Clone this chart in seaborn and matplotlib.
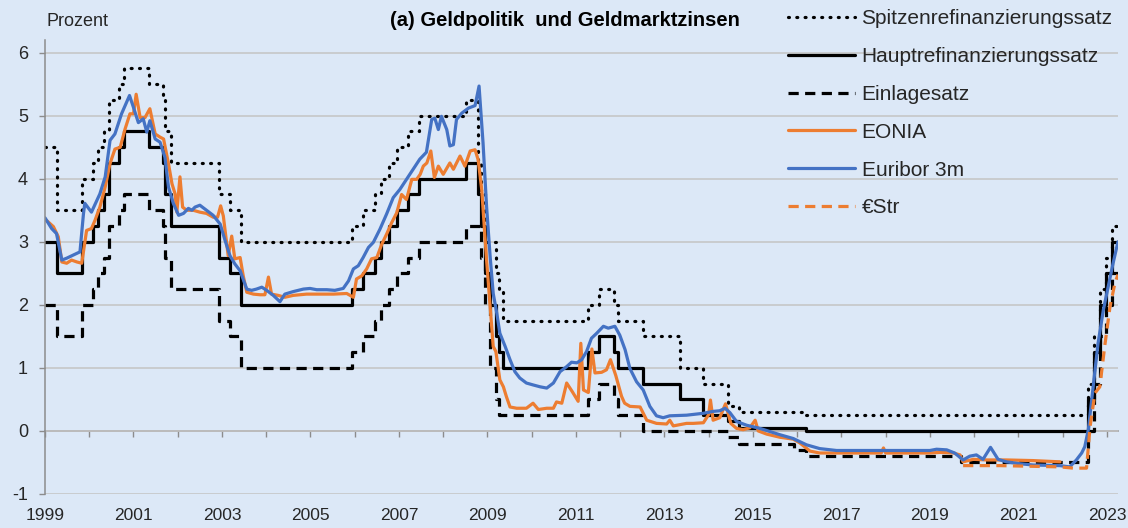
import numpy as np
import pandas as pd
import matplotlib
matplotlib.use("Agg")
import matplotlib.pyplot as plt
import seaborn as sns

"""
Leitzinsen der EZB: Datum der Aenderung und neuer Satz (Prozent)
"""
zins_daten = ["1999-01-01", "1999-04-09", "1999-11-05", "2000-02-04", "2000-03-17",
              "2000-04-28", "2000-06-09", "2000-09-01", "2000-10-11", "2001-05-11",
              "2001-08-31", "2001-09-18", "2001-11-09", "2002-12-06", "2003-03-07",
              "2003-06-06", "2005-12-06", "2006-03-08", "2006-06-15", "2006-08-09",
              "2006-10-11", "2006-12-13", "2007-03-14", "2007-06-13", "2008-07-09",
              "2008-10-15", "2008-11-12", "2008-12-10", "2009-01-21", "2009-03-11",
              "2009-04-08", "2009-05-13", "2011-04-13", "2011-07-13", "2011-11-09",
              "2011-12-14", "2012-07-11", "2013-05-08", "2013-11-13", "2014-06-11",
              "2014-09-10", "2015-12-09", "2016-03-16", "2019-09-18", "2022-07-27",
              "2022-09-14", "2022-11-02", "2022-12-21", "2023-02-08", "2023-04-01"]
spitzen = [4.50, 3.50, 4.00, 4.25, 4.50, 4.75, 5.25, 5.50, 5.75, 5.50,
           5.25, 4.75, 4.25, 3.75, 3.50, 3.00, 3.25, 3.50, 3.75, 4.00,
           4.25, 4.50, 4.75, 5.00, 5.25, 4.25, 3.75, 3.00, 3.00, 2.50,
           2.25, 1.75, 2.00, 2.25, 2.00, 1.75, 1.50, 1.00, 0.75, 0.40,
           0.30, 0.30, 0.25, 0.25, 0.75, 1.50, 2.25, 2.75, 3.25, 3.25]
haupt = [3.00, 2.50, 3.00, 3.25, 3.50, 3.75, 4.25, 4.50, 4.75, 4.50,
         4.25, 3.75, 3.25, 2.75, 2.50, 2.00, 2.25, 2.50, 2.75, 3.00,
         3.25, 3.50, 3.75, 4.00, 4.25, 3.75, 3.25, 2.50, 2.00, 1.50,
         1.25, 1.00, 1.25, 1.50, 1.25, 1.00, 0.75, 0.50, 0.25, 0.15,
         0.05, 0.05, 0.00, 0.00, 0.50, 1.25, 2.00, 2.50, 3.00, 3.00]
einlage = [2.00, 1.50, 2.00, 2.25, 2.50, 2.75, 3.25, 3.50, 3.75, 3.50,
           3.25, 2.75, 2.25, 1.75, 1.50, 1.00, 1.25, 1.50, 1.75, 2.00,
           2.25, 2.50, 2.75, 3.00, 3.25, 3.25, 2.75, 2.00, 1.00, 0.50,
           0.25, 0.25, 0.50, 0.75, 0.50, 0.25, 0.00, 0.00, 0.00, -0.10,
           -0.20, -0.30, -0.40, -0.50, 0.00, 0.75, 1.50, 2.00, 2.50, 2.50]

"""
Geldmarktzinsen (abgelesen, Jahr als Dezimalzahl)
"""
eonia_jahr = [1999.00, 1999.19, 1999.30, 1999.38, 1999.49, 1999.60, 1999.72, 1999.83, 1999.94,
              2000.05, 2000.13, 2000.24, 2000.36, 2000.47, 2000.58, 2000.70, 2000.81, 2000.92,
              2001.00, 2001.06, 2001.15, 2001.26, 2001.37, 2001.49, 2001.60, 2001.68, 2001.79,
              2001.87, 2001.94, 2001.98, 2002.05, 2002.11, 2002.20, 2002.35, 2002.50, 2002.65,
              2002.80, 2002.90, 2002.97, 2003.03, 2003.14, 2003.22, 2003.29, 2003.41, 2003.48,
              2003.56, 2003.71, 2003.86, 2003.97, 2004.05, 2004.12, 2004.27, 2004.42, 2004.61,
              2004.91, 2005.21, 2005.52, 2005.82, 2005.97, 2006.04, 2006.16, 2006.27, 2006.38,
              2006.50, 2006.61, 2006.72, 2006.84, 2006.95, 2007.06, 2007.17, 2007.29, 2007.40,
              2007.48, 2007.55, 2007.63, 2007.72, 2007.80, 2007.89, 2008.00, 2008.15, 2008.23,
              2008.38, 2008.49, 2008.61, 2008.72, 2008.79, 2008.87, 2008.98, 2009.06, 2009.13,
              2009.19, 2009.28, 2009.36, 2009.43, 2009.51, 2009.66, 2009.88, 2010.03, 2010.15,
              2010.34, 2010.49, 2010.56, 2010.68, 2010.79, 2010.92, 2011.05, 2011.11, 2011.17,
              2011.28, 2011.36, 2011.43, 2011.58, 2011.69, 2011.78, 2011.90, 2012.03, 2012.10,
              2012.22, 2012.45, 2012.60, 2012.82, 2013.05, 2013.12, 2013.20, 2013.35, 2013.50,
              2013.65, 2013.88, 2014.00, 2014.04, 2014.10, 2014.25, 2014.38, 2014.50, 2014.63,
              2014.78, 2014.93, 2015.05, 2015.12, 2015.31, 2015.61, 2015.91, 2016.06, 2016.29,
              2016.51, 2017.90, 2017.95, 2018.00, 2019.00, 2019.23, 2019.53, 2019.68, 2019.75,
              2019.98, 2020.28, 2020.73, 2021.33, 2021.94]
eonia = [3.36, 3.24, 3.08, 2.68, 2.66, 2.71, 2.68, 2.66, 3.18,
         3.21, 3.34, 3.55, 3.87, 4.24, 4.47, 4.50, 4.79, 5.03,
         5.03, 5.34, 4.97, 4.97, 5.11, 4.71, 4.66, 4.63, 4.24,
         3.92, 3.76, 3.47, 4.03, 3.55, 3.50, 3.50, 3.47, 3.45,
         3.39, 3.39, 3.57, 3.41, 2.78, 3.09, 2.73, 2.75, 2.46,
         2.20, 2.17, 2.16, 2.16, 2.44, 2.17, 2.15, 2.12, 2.15,
         2.17, 2.17, 2.17, 2.18, 2.12, 2.41, 2.46, 2.57, 2.73,
         2.75, 2.96, 3.12, 3.31, 3.46, 3.75, 3.67, 3.99, 3.99,
         4.07, 4.20, 4.25, 4.44, 4.02, 4.20, 4.07, 4.25, 4.15,
         4.36, 4.20, 4.44, 4.46, 4.30, 3.83, 2.71, 1.97, 1.34,
         1.26, 0.81, 0.70, 0.54, 0.38, 0.36, 0.36, 0.44, 0.34,
         0.36, 0.36, 0.46, 0.44, 0.76, 0.62, 0.47, 1.39, 0.65,
         0.61, 1.30, 0.92, 0.93, 0.97, 1.13, 0.88, 0.55, 0.44,
         0.39, 0.38, 0.17, 0.12, 0.11, 0.17, 0.08, 0.10, 0.12,
         0.12, 0.13, 0.26, 0.49, 0.17, 0.21, 0.43, 0.12, 0.04,
         0.02, 0.05, 0.17, 0.00, -0.05, -0.10, -0.13, -0.19, -0.32,
         -0.35, -0.35, -0.27, -0.35, -0.35, -0.34, -0.35, -0.38, -0.49,
         -0.45, -0.46, -0.46, -0.47, -0.49]

euribor_jahr = [1999.00, 1999.15, 1999.26, 1999.38, 1999.49, 1999.64, 1999.79, 1999.87, 1999.90,
                2000.05, 2000.24, 2000.36, 2000.47, 2000.58, 2000.73, 2000.91, 2001.00, 2001.11,
                2001.22, 2001.30, 2001.37, 2001.49, 2001.60, 2001.71, 2001.79, 2001.90, 2002.02,
                2002.13, 2002.24, 2002.32, 2002.39, 2002.50, 2002.65, 2002.80, 2002.96, 2003.07,
                2003.18, 2003.29, 2003.41, 2003.56, 2003.67, 2003.78, 2003.90, 2004.01, 2004.16,
                2004.31, 2004.42, 2004.61, 2004.84, 2004.99, 2005.14, 2005.37, 2005.55, 2005.74,
                2005.86, 2005.97, 2006.08, 2006.19, 2006.31, 2006.42, 2006.57, 2006.72, 2006.87,
                2007.02, 2007.17, 2007.32, 2007.47, 2007.62, 2007.74, 2007.81, 2007.89, 2007.96,
                2008.08, 2008.15, 2008.23, 2008.30, 2008.42, 2008.57, 2008.72, 2008.81, 2008.90,
                2008.98, 2009.06, 2009.13, 2009.21, 2009.28, 2009.40, 2009.51, 2009.62, 2009.73,
                2009.88, 2010.03, 2010.19, 2010.34, 2010.49, 2010.64, 2010.79, 2010.90, 2011.02,
                2011.13, 2011.24, 2011.35, 2011.47, 2011.62, 2011.73, 2011.88, 2011.99, 2012.11,
                2012.22, 2012.37, 2012.52, 2012.67, 2012.82, 2012.97, 2013.12, 2013.50, 2013.88,
                2014.10, 2014.25, 2014.37, 2014.48, 2014.63, 2014.86, 2015.16, 2015.61, 2015.91,
                2016.21, 2016.51, 2016.89, 2019.00, 2019.15, 2019.38, 2019.56, 2019.75, 2019.90,
                2020.05, 2020.20, 2020.37, 2020.54, 2020.73, 2021.03, 2021.33, 2021.94, 2022.16,
                2022.31, 2022.43, 2022.50, 2022.58, 2022.69, 2022.80, 2022.92, 2023.03, 2023.14,
                2023.25]
euribor = [3.38, 3.21, 3.13, 2.71, 2.74, 2.79, 2.84, 3.45, 3.61,
           3.47, 3.76, 4.03, 4.61, 4.71, 5.03, 5.32, 5.13, 4.89,
           4.95, 4.74, 4.92, 4.63, 4.58, 4.34, 3.87, 3.61, 3.42,
           3.45, 3.53, 3.50, 3.55, 3.58, 3.50, 3.42, 3.28, 3.02,
           2.78, 2.65, 2.54, 2.25, 2.23, 2.25, 2.28, 2.23, 2.15,
           2.05, 2.17, 2.21, 2.25, 2.26, 2.24, 2.24, 2.23, 2.26,
           2.38, 2.57, 2.62, 2.75, 2.91, 2.99, 3.20, 3.44, 3.70,
           3.83, 3.99, 4.15, 4.31, 4.42, 4.94, 4.96, 4.78, 4.99,
           4.78, 4.52, 4.54, 4.94, 5.04, 5.12, 5.16, 5.47, 4.57,
           3.56, 2.77, 2.18, 1.87, 1.55, 1.34, 1.13, 0.94, 0.84,
           0.76, 0.73, 0.70, 0.68, 0.76, 0.94, 1.02, 1.09, 1.08,
           1.13, 1.26, 1.47, 1.55, 1.66, 1.63, 1.66, 1.52, 1.29,
           0.99, 0.78, 0.65, 0.39, 0.24, 0.21, 0.24, 0.25, 0.28,
           0.31, 0.32, 0.36, 0.29, 0.15, 0.09, 0.04, -0.06, -0.12,
           -0.22, -0.28, -0.31, -0.31, -0.29, -0.30, -0.35, -0.46, -0.40,
           -0.38, -0.45, -0.26, -0.45, -0.49, -0.52, -0.54, -0.55, -0.57,
           -0.46, -0.35, -0.25, 0.02, 0.70, 1.39, 1.92, 2.29, 2.66,
           3.00]

estr_jahr = [2019.75, 2020.58, 2021.94, 2022.24, 2022.54, 2022.62, 2022.73, 2022.84,
             2022.95, 2023.07, 2023.18, 2023.25]
estr = [-0.55, -0.55, -0.57, -0.59, -0.59, 0.07, 0.60, 0.70,
        1.34, 1.97, 2.34, 2.48]

jahre = list(range(1999, 2024))
jahr_labels = [str(j) if j % 2 == 1 else "" for j in jahre]


def dezimaljahr(daten):
    d = pd.to_datetime(pd.Series(daten))
    tage = np.where(d.dt.is_leap_year, 366, 365)
    return (d.dt.year + (d.dt.dayofyear - 1) / tage).values


sns.set_theme(style="white")
plt.rcParams['font.family'] = ['Liberation Sans', 'DejaVu Sans']

bg = '#dce8f7'
grau = '#8c8c8c'
orange = '#ed7d31'
blau = '#4472c4'
lw = 2.3

fig, ax = plt.subplots(figsize=(11.28, 5.28), dpi=100)
fig.patch.set_facecolor(bg)
ax.set_facecolor(bg)
fig.subplots_adjust(left=0.0399, right=0.9911, bottom=0.0644, top=0.9242)

zx = dezimaljahr(zins_daten)
sns.lineplot(x=zx, y=spitzen, ax=ax, color='black', lw=lw, linestyle=(0, (0.3, 2.3)),
             dash_capstyle='round', drawstyle='steps-post', estimator=None,
             label='Spitzenrefinanzierungssatz')
sns.lineplot(x=zx, y=haupt, ax=ax, color='black', lw=lw, drawstyle='steps-post',
             estimator=None, label='Hauptrefinanzierungssatz')
sns.lineplot(x=zx, y=einlage, ax=ax, color='black', lw=lw, linestyle=(0, (3.2, 2.0)),
             drawstyle='steps-post', estimator=None, label='Einlagesatz')
sns.lineplot(x=eonia_jahr, y=eonia, ax=ax, color=orange, lw=lw, estimator=None,
             label='EONIA')
sns.lineplot(x=euribor_jahr, y=euribor, ax=ax, color=blau, lw=lw, estimator=None,
             label='Euribor 3m')
sns.lineplot(x=estr_jahr, y=estr, ax=ax, color=orange, lw=lw, linestyle=(0, (3.2, 2.0)),
             estimator=None, label='€Str')

ax.set_xlim(1999, 2023.25)
ax.set_ylim(-1, 6.2)
ax.set_yticks(range(-1, 7))
ax.set_yticklabels([str(v) for v in range(-1, 7)])
ax.yaxis.grid(True, color='#c4c4c4', lw=1.1)
ax.xaxis.grid(False)
ax.set_axisbelow(True)
for s in ['top', 'right', 'bottom']:
    ax.spines[s].set_visible(False)
ax.spines['left'].set_color(grau)
ax.spines['left'].set_linewidth(1.1)
ax.tick_params(axis='y', length=4.3, width=1, color=grau, pad=8, labelsize=13,
               labelcolor='#262626', left=True)
ax.set_xticks(jahre)
ax.set_xticklabels(jahr_labels)
ax.tick_params(axis='x', length=0, pad=10, labelsize=12.5, labelcolor='#262626')
ax.set_xlabel('')
ax.set_ylabel('')

# Nulllinie mit Jahresstrichen
null = ax.secondary_xaxis(1 / 7.2)
null.set_xticks(jahre)
null.tick_params(axis='x', length=4.3, width=1, color=grau, labelbottom=False,
                 direction='out')
null.spines['bottom'].set_color(grau)
null.spines['bottom'].set_linewidth(1.1)

handles, labels = ax.get_legend_handles_labels()
ax.legend(handles, labels, loc='upper left', bbox_to_anchor=(788 / 1128, 1 - 9.5 / 528),
          bbox_transform=fig.transFigure, frameon=False, fontsize=15,
          handlelength=3.2, handletextpad=0.33, labelspacing=0.9,
          borderpad=0, borderaxespad=0, labelcolor='#262626')

fig.text(47 / 1128, 1 - 22 / 528, 'Prozent', fontsize=13, va='center', ha='left',
         color='#262626')
fig.text(565 / 1128, 1 - 20 / 528, '(a) Geldpolitik  und Geldmarktzinsen',
         fontsize=14.5, fontweight='bold', va='center', ha='center', color='black')

fig.savefig('out.png', dpi=100, facecolor=bg)
